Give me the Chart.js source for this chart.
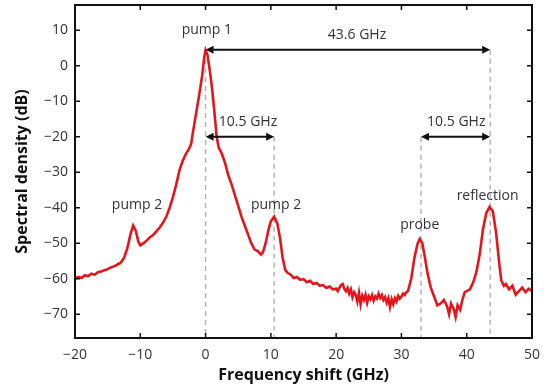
<!DOCTYPE html>
<html>
<head>
<meta charset="utf-8">
<script src="https://cdn.jsdelivr.net/npm/chart.js@4"></script>
<style>
  html, body { margin: 0; padding: 0; background: #fff; }
  #wrap { width: 553px; height: 390px; }
</style>
</head>
<body>
<div id="wrap"><canvas id="spectrumChart" width="553" height="390"></canvas></div>
<script>
// 频移 (GHz) 与谱密度 (dB)
const freq = [
  -20, -19.5, -19, -18.5, -18, -17.5, -17, -16.5, -16, -15.5, -15, -14.5, -14, -13.5, -13, -12.5, -12, -11.5,
  -11.1, -10.7, -10.3, -10, -9.5, -9, -8.5, -8, -7.5, -7, -6.5, -6, -5.5, -5, -4.5, -4, -3.5, -3, -2.5, -2.2,
  -2, -1.5, -1, -0.5, -0.2, 0, 0.3, 0.7, 1, 1.3, 1.7, 2, 2.5, 3, 3.5, 4, 4.5, 5, 5.5, 6, 6.5, 7, 7.5, 8, 8.5,
  8.8, 9.2, 9.6, 10, 10.5, 11, 11.4, 11.8, 12.2, 12.6, 13, 13.5, 14, 14.5, 15, 15.5, 16, 16.5, 17, 17.5, 18,
  18.5, 19, 19.5,
  20, 20.25, 20.5, 20.75, 21, 21.25, 21.5, 21.75, 22, 22.25, 22.5, 22.75, 23, 23.25, 23.5, 23.75, 24, 24.25,
  24.5, 24.75, 25, 25.25, 25.5, 25.75, 26, 26.25, 26.5, 26.75, 27, 27.25, 27.5, 27.75, 28, 28.25, 28.5, 28.75,
  29, 29.25, 29.5, 29.75, 30, 30.25, 30.5, 30.75, 31,
  31.5, 32, 32.5, 32.8, 33.2, 33.6, 34, 34.5, 35, 35.5, 36, 36.5, 37, 37.3,
  37.6, 38, 38.3, 38.6, 39, 39.3, 39.7, 40, 40.5, 41, 41.5, 42, 42.5, 43, 43.5, 44, 44.5, 45, 45.3, 45.7,
  46, 46.5, 47, 47.5, 48, 48.5, 49, 49.5, 50
];
const density = [
  -60.0, -59.5, -59.8, -59.0, -59.3, -58.6, -58.9, -58.2, -58.0, -57.6, -57.3, -56.8, -56.5, -56.0, -55.5, -54.2, -51.5, -47.5,
  -45.0, -46.5, -49.5, -50.6, -50.0, -49.2, -48.3, -47.6, -46.6, -45.5, -44.2, -42.5, -40.0, -37.0, -33.5, -29.5, -26.8, -24.8, -23.3, -22.0,
  -19.5, -14.0, -8.5, -2.5, 2.5, 4.4, 3.0, -2.0, -6.5, -12.0, -20.0, -23.0, -24.8, -27.5, -31.0, -33.5, -36.5, -39.5, -42.5, -45.0, -47.5, -50.0, -51.8, -52.2, -53.2,
  -52.5, -50.0, -46.5, -43.8, -42.5, -44.5, -48.5, -54.0, -57.5, -58.4, -58.8, -59.8, -59.5, -60.3, -60.1, -61.0, -60.6, -61.5, -61.2, -62.0, -61.8,
  -62.6, -62.2, -63.0,
  -62.8, -63.5, -62.6, -61.8, -61.5, -62.8, -63.5, -62.6, -64.2, -63.0, -65.2, -63.8, -64.6, -66.5, -64.0, -67.2, -64.8, -66.0,
  -64.5, -66.8, -65.0, -65.8, -64.6, -66.2, -65.0, -65.6, -64.2, -65.4, -64.6, -66.0, -65.2, -66.8, -65.5, -68.0, -65.8, -67.2,
  -65.5, -66.4, -64.8, -65.6, -65.0, -64.2, -64.6, -63.8, -63.5,
  -60.0, -54.0, -50.0, -48.8, -50.0, -54.0, -58.5, -62.5, -65.0, -67.5, -67.0, -66.0, -67.8, -70.0,
  -67.0, -68.5, -70.8, -67.5, -68.8, -66.2, -63.8, -63.5, -63.0, -61.0, -58.0, -53.0, -46.0, -41.5, -39.8, -41.0, -47.0, -56.0, -60.5, -62.0,
  -61.5, -63.0, -62.0, -64.5, -63.5, -62.5, -63.8, -62.8, -63.5
];

// 坐标轴刻度
const xTicks = [-20, -10, 0, 10, 20, 30, 40, 50];
const yTicks = [10, 0, -10, -20, -30, -40, -50, -60, -70];

// 虚线位置 (GHz) 及其上端 (dB)
const markerFreq = [0, 10.5, 33, 43.6];
const markerTop = [4.4, -20, -20, 4.5];

// 双箭头：起点、终点、高度
const arrowFrom = [0, 0, 33];
const arrowTo = [43.6, 10.5, 43.6];
const arrowLevel = [4.5, -20, -20];

// 文字标注
const noteText = ['pump 1', 'pump 2', 'pump 2', 'probe', 'reflection', '43.6 GHz', '10.5 GHz', '10.5 GHz'];
const noteFreq = [0.2, -10.5, 10.8, 32.8, 43.2, 23.2, 6.5, 38.4];
const noteLevel = [10, -39.3, -39.3, -45, -36.6, 8.7, -16, -16];

const FONT = '"Open Sans", "DejaVu Sans", sans-serif';
const minus = v => String(v).replace('-', '\u2212');

function drawArrowHead(ctx, x, y, dir) {
    ctx.beginPath();
    ctx.moveTo(x, y);
    ctx.lineTo(x - dir * 8, y - 4);
    ctx.lineTo(x - dir * 8, y + 4);
    ctx.closePath();
    ctx.fill();
}

const decorations = {
    id: 'decorations',
    beforeDatasetsDraw(chart) {
        const ctx = chart.ctx;
        const xs = chart.scales.x, ys = chart.scales.y;
        const area = chart.chartArea;
        ctx.save();
        ctx.strokeStyle = '#b4b4b4';
        ctx.lineWidth = 1.5;
        ctx.setLineDash([5, 4]);
        markerFreq.forEach((f, i) => {
            const px = xs.getPixelForValue(f);
            ctx.beginPath();
            ctx.moveTo(px, ys.getPixelForValue(markerTop[i]));
            ctx.lineTo(px, area.bottom);
            ctx.stroke();
        });
        ctx.restore();
    },
    afterDatasetsDraw(chart) {
        const ctx = chart.ctx;
        const xs = chart.scales.x, ys = chart.scales.y;
        const area = chart.chartArea;
        ctx.save();

        // 箭头
        ctx.strokeStyle = '#111';
        ctx.fillStyle = '#111';
        ctx.lineWidth = 2;
        arrowFrom.forEach((f, i) => {
            const x1 = xs.getPixelForValue(f);
            const x2 = xs.getPixelForValue(arrowTo[i]);
            const py = ys.getPixelForValue(arrowLevel[i]);
            ctx.beginPath();
            ctx.moveTo(x1 + 6, py);
            ctx.lineTo(x2 - 6, py);
            ctx.stroke();
            drawArrowHead(ctx, x1, py, -1);
            drawArrowHead(ctx, x2, py, 1);
        });

        // 标注文字
        ctx.fillStyle = '#333';
        ctx.font = '14px ' + FONT;
        ctx.textAlign = 'center';
        ctx.textBaseline = 'middle';
        noteText.forEach((t, i) => {
            ctx.fillText(t, xs.getPixelForValue(noteFreq[i]), ys.getPixelForValue(noteLevel[i]));
        });

        // 边框和向内刻度
        ctx.strokeStyle = '#111';
        ctx.lineWidth = 2;
        ctx.strokeRect(area.left, area.top, area.right - area.left, area.bottom - area.top);
        ctx.lineWidth = 1.5;
        const len = 5;
        xTicks.forEach(v => {
            const px = xs.getPixelForValue(v);
            ctx.beginPath();
            ctx.moveTo(px, area.bottom); ctx.lineTo(px, area.bottom - len);
            ctx.moveTo(px, area.top); ctx.lineTo(px, area.top + len);
            ctx.stroke();
        });
        yTicks.forEach(v => {
            const py = ys.getPixelForValue(v);
            ctx.beginPath();
            ctx.moveTo(area.left, py); ctx.lineTo(area.left + len, py);
            ctx.moveTo(area.right, py); ctx.lineTo(area.right - len, py);
            ctx.stroke();
        });
        ctx.restore();
    }
};

new Chart(document.getElementById('spectrumChart'), {
    type: 'line',
    data: {
        datasets: [{
            label: 'Spectral density',
            data: freq.map((f, i) => ({ x: f, y: density[i] })),
            borderColor: '#e3161c',
            borderWidth: 2.6,
            pointRadius: 0,
            fill: false,
            tension: 0
        }]
    },
    options: {
        responsive: false,
        animation: false,
        layout: { padding: { top: 5, right: 21 } },
        plugins: {
            legend: { display: false },
            tooltip: { enabled: false }
        },
        scales: {
            x: {
                type: 'linear',
                min: -20,
                max: 50,
                afterBuildTicks: s => { s.ticks = xTicks.map(v => ({ value: v })); },
                afterFit: s => { s.height = 52; },
                grid: { display: false, drawTicks: false },
                border: { display: false },
                ticks: {
                    padding: 9,
                    color: '#333',
                    font: { family: FONT, size: 14 },
                    callback: v => minus(v)
                },
                title: {
                    display: true,
                    text: 'Frequency shift (GHz)',
                    color: '#111',
                    font: { family: FONT, size: 16, weight: 'bold' },
                    padding: { top: 0, bottom: 5 }
                }
            },
            y: {
                type: 'linear',
                min: -76.7,
                max: 17.1,
                afterBuildTicks: s => { s.ticks = yTicks.map(v => ({ value: v })); },
                afterFit: s => { s.width = 75; s.paddingTop = 0; s.paddingBottom = 0; },
                grid: { display: false, drawTicks: false },
                border: { display: false },
                ticks: {
                    padding: 7,
                    color: '#333',
                    font: { family: FONT, size: 14 },
                    callback: v => minus(v)
                },
                title: {
                    display: true,
                    text: 'Spectral density (dB)',
                    color: '#111',
                    font: { family: FONT, size: 16, weight: 'bold' },
                    padding: { top: 13, bottom: 0 }
                }
            }
        }
    },
    plugins: [decorations]
});
</script>
</body>
</html>
